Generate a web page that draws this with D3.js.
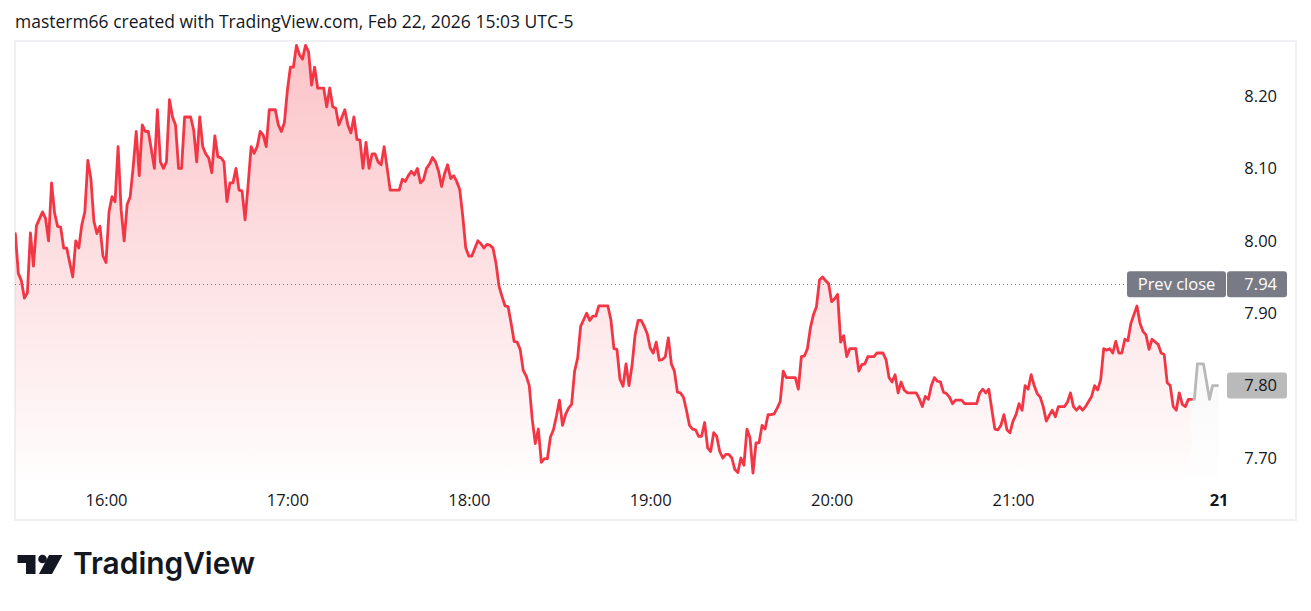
<!DOCTYPE html>
<html>
<head>
<meta charset="utf-8">
<script src="https://cdn.jsdelivr.net/npm/d3@7"></script>
<style>
  html, body { margin: 0; padding: 0; background: #fff; }
  svg { display: block; }
</style>
</head>
<body>
<svg id="chart" width="1311" height="611"></svg>
<script>
// ---- data: 1-min closes, index = minutes after 15:30 (null = not read) ----
var regular = [
  8.010, 7.955, 7.945, 7.921, 7.928, 8.011, 7.965, 8.021, null, 8.040,
  8.031, 8.000, 8.080, 8.038, 8.020, 8.019, 7.990, 7.990, null, 7.950,
  8.000, 7.990, 8.022, 8.040, 8.111, 8.086, 8.027, 8.010, 8.020, 7.979,
  7.970, 8.040, 8.061, 8.054, 8.130, 8.043, 8.000, 8.050, 8.061, 8.102,
  8.151, 8.090, 8.160, 8.151, 8.151, 8.126, 8.100, 8.181, 8.109, 8.100,
  8.109, 8.195, 8.171, 8.160, 8.100, 8.100, 8.171, 8.171, 8.171, 8.153,
  8.109, 8.171, 8.130, 8.120, 8.114, 8.094, 8.145, 8.116, 8.115, 8.109,
  8.054, 8.080, 8.080, 8.100, 8.070, 8.069, 8.029, 8.077, 8.130, 8.121,
  8.130, 8.151, 8.146, 8.130, 8.181, 8.181, 8.181, 8.160, 8.151, 8.163,
  8.208, 8.240, 8.240, 8.270, 8.257, 8.251, 8.270, 8.261, 8.215, 8.240,
  8.211, 8.211, 8.211, 8.185, 8.211, 8.185, 8.183, 8.160, null, 8.181,
  8.160, 8.149, 8.171, 8.140, 8.139, 8.100, 8.136, 8.100, 8.120, 8.120,
  8.109, 8.105, 8.130, 8.100, 8.070, 8.070, 8.070, 8.070, 8.085, 8.082,
  8.090, 8.096, 8.091, 8.100, 8.080, 8.084, 8.100, 8.106, 8.115, 8.109,
  8.096, 8.075, 8.093, 8.105, 8.086, 8.090, 8.082, 8.071, 8.034, 7.990,
  7.979, 7.979, null, 8.000, 7.996, 7.990, 7.995, 7.994, 7.990, 7.969,
  7.937, 7.923, 7.910, 7.909, 7.886, 7.861, 7.860, 7.850, 7.821, 7.813,
  7.800, 7.753, 7.720, 7.740, 7.694, 7.699, 7.699, 7.729, 7.739, 7.758,
  7.780, 7.745, 7.760, 7.769, 7.774, 7.820, 7.838, 7.882, 7.891, 7.900,
  7.890, 7.896, 7.896, 7.910, 7.910, 7.910, 7.910, 7.891, 7.851, 7.850,
  7.809, 7.799, 7.830, 7.800, 7.828, 7.870, 7.890, 7.890, 7.882, 7.872,
  7.852, 7.845, 7.860, 7.835, 7.836, 7.840, 7.866, 7.830, 7.820, 7.791,
  7.790, 7.784, 7.766, 7.745, 7.740, 7.739, 7.730, 7.730, 7.749, 7.714,
  7.709, 7.735, 7.730, 7.709, 7.700, 7.705, 7.705, 7.700, 7.684, 7.680,
  7.700, 7.690, 7.740, 7.728, 7.679, 7.721, 7.721, 7.745, 7.740, 7.760,
  7.760, 7.761, 7.769, 7.778, 7.820, 7.811, 7.811, 7.811, 7.811, 7.795,
  7.840, 7.841, 7.851, 7.880, 7.898, 7.909, 7.946, 7.950, 7.945, 7.941,
  7.916, 7.920, 7.926, 7.860, 7.869, 7.840, 7.851, 7.851, 7.851, 7.820,
  7.829, 7.830, 7.840, 7.840, 7.840, 7.845, 7.845, 7.845, 7.836, 7.811,
  7.805, 7.815, 7.790, 7.805, 7.794, 7.790, 7.790, 7.790, 7.790, 7.782,
  7.771, 7.785, 7.781, 7.800, 7.811, 7.806, 7.805, 7.791, 7.789, 7.784,
  7.775, 7.780, 7.780, 7.780, 7.775, 7.775, 7.775, 7.775, 7.775, 7.790,
  7.795, 7.790, 7.795, 7.767, 7.740, 7.739, 7.745, 7.760, 7.739, 7.735,
  7.751, 7.760, 7.775, 7.766, 7.800, 7.795, 7.815, 7.800, 7.789, 7.784,
  7.771, 7.751, 7.759, 7.766, 7.757, 7.771, 7.771, 7.771, 7.777, 7.790,
  7.771, 7.766, 7.771, 7.766, 7.771, 7.778, 7.785, 7.800, 7.794, 7.808,
  7.851, 7.849, 7.851, 7.845, 7.861, 7.845, 7.845, 7.864, 7.862, 7.886,
  7.898, 7.910, 7.886, 7.875, 7.870, 7.850, 7.864, null, 7.857, 7.845,
  7.843, 7.804, 7.800, 7.771, 7.766, 7.790, 7.774, 7.771, 7.781, 7.781
];
// post-market (grey), starts at the last regular minute
var postStart = 389;
var post = [7.781, 7.781, 7.830, 7.830, 7.830, null, 7.781, 7.800, 7.800, 7.800];

var priceTicks = [7.70, 7.80, 7.90, 8.00, 8.10, 8.20];
var timeTicks  = [30, 90, 150, 210, 270, 330, 398];          // minutes after 15:30
var timeLabels = ["16:00", "17:00", "18:00", "19:00", "20:00", "21:00", "21"];
var prevClose = 7.94;
var lastPrice = 7.80;
var header = "masterm66 created with TradingView.com, Feb 22, 2026 15:03 UTC-5";

// ---- frame ----
var svg = d3.select("#chart");
var FONT = "'Open Sans', 'Noto Sans', sans-serif";
var INK = "#131722";
var pane = { left: 15, top: 41, right: 1226, bottom: 478 };

var x = d3.scaleLinear().domain([30, 330]).range([106, 1013]);
var y = d3.scaleLinear().domain([7.70, 8.20]).range([458, 96]);

var regPts = regular.map(function (p, i) { return { m: i, p: p }; })
  .filter(function (d) { return d.p != null; });
var postPts = post.map(function (p, i) { return { m: postStart + i, p: p }; })
  .filter(function (d) { return d.p != null; });

// gradients
var defs = svg.append("defs");
var gR = defs.append("linearGradient").attr("id", "gRed")
  .attr("gradientUnits", "userSpaceOnUse")
  .attr("x1", 0).attr("x2", 0).attr("y1", pane.top).attr("y2", pane.bottom);
gR.append("stop").attr("offset", 0).attr("stop-color", "#f23645").attr("stop-opacity", 0.3);
gR.append("stop").attr("offset", 1).attr("stop-color", "#f23645").attr("stop-opacity", 0.01);
var gG = defs.append("linearGradient").attr("id", "gGrey")
  .attr("gradientUnits", "userSpaceOnUse")
  .attr("x1", 0).attr("x2", 0).attr("y1", pane.top).attr("y2", pane.bottom);
gG.append("stop").attr("offset", 0).attr("stop-color", "#9598a1").attr("stop-opacity", 0.22);
gG.append("stop").attr("offset", 1).attr("stop-color", "#9598a1").attr("stop-opacity", 0.01);
defs.append("clipPath").attr("id", "paneClip").append("rect")
  .attr("x", pane.left).attr("y", pane.top)
  .attr("width", pane.right - pane.left).attr("height", pane.bottom - pane.top);

// header
var head = svg.append("text")
  .attr("x", 15).attr("y", 28)
  .attr("font-family", FONT).attr("font-size", 16).attr("font-weight", 500).attr("fill", INK)
  .text(header);
var hw = head.node().getComputedTextLength();
head.attr("font-size", 16 * 559 / hw);

// outer border
svg.append("rect")
  .attr("x", 15).attr("y", 41).attr("width", 1281).attr("height", 479)
  .attr("fill", "none").attr("stroke", "#eef0f3").attr("stroke-width", 2);

var plot = svg.append("g").attr("clip-path", "url(#paneClip)");

var area = d3.area()
  .x(function (d) { return x(d.m); })
  .y0(pane.bottom)
  .y1(function (d) { return y(d.p); });
var line = d3.line()
  .x(function (d) { return x(d.m); })
  .y(function (d) { return y(d.p); });

plot.append("path").datum(regPts).attr("d", area).attr("fill", "url(#gRed)");
plot.append("path").datum(postPts).attr("d", area).attr("fill", "url(#gGrey)");

// prev close dotted line
plot.append("line")
  .attr("x1", pane.left).attr("x2", pane.right)
  .attr("y1", Math.round(y(prevClose)) + 0.5).attr("y2", Math.round(y(prevClose)) + 0.5)
  .attr("stroke", "#787b86").attr("stroke-width", 1)
  .attr("stroke-dasharray", "1 3");

plot.append("path").datum(postPts).attr("d", line)
  .attr("fill", "none").attr("stroke", "#b8b8b8").attr("stroke-width", 2.8)
  .attr("stroke-linejoin", "round");
plot.append("path").datum(regPts).attr("d", line)
  .attr("fill", "none").attr("stroke", "#f23645").attr("stroke-width", 2.8)
  .attr("stroke-linejoin", "round").attr("stroke-linecap", "round");

// price axis
var yAxis = svg.append("g")
  .attr("transform", "translate(1277,0)")
  .call(d3.axisLeft(y).tickValues(priceTicks).tickSize(0).tickPadding(0)
    .tickFormat(function (d) { return d.toFixed(2); }));
yAxis.select(".domain").remove();
yAxis.selectAll("text").attr("font-family", FONT).attr("font-size", 16.5).attr("fill", INK);

// time axis
var xAxis = svg.append("g")
  .attr("transform", "translate(0,494)")
  .call(d3.axisBottom(x).tickValues(timeTicks).tickSize(0).tickPadding(0)
    .tickFormat(function (d, i) { return timeLabels[i]; }));
xAxis.select(".domain").remove();
xAxis.selectAll("text").attr("font-family", FONT).attr("font-size", 16.5).attr("fill", INK)
  .attr("font-weight", function (d, i) { return timeLabels[i].indexOf(":") < 0 ? 700 : 400; });

// prev close label
var yc = y(prevClose);
var pc = svg.append("g");
pc.append("rect").attr("x", 1127).attr("y", yc - 13).attr("width", 99).attr("height", 26)
  .attr("rx", 3).attr("fill", "#787b86");
pc.append("rect").attr("x", 1227).attr("y", yc - 13).attr("width", 60).attr("height", 26)
  .attr("rx", 3).attr("fill", "#787b86");
pc.append("text").attr("x", 1176.5).attr("y", yc).attr("dy", "0.35em")
  .attr("text-anchor", "middle").attr("font-family", FONT).attr("font-size", 16.5)
  .attr("font-weight", 500).attr("fill", "#fff").text("Prev close");
pc.append("text").attr("x", 1277).attr("y", yc).attr("dy", "0.35em")
  .attr("text-anchor", "end").attr("font-family", FONT).attr("font-size", 16.5)
  .attr("fill", "#fff").text(prevClose.toFixed(2));

// last price label
var yl = y(lastPrice);
svg.append("rect").attr("x", 1227).attr("y", yl - 13).attr("width", 60).attr("height", 26)
  .attr("rx", 3).attr("fill", "#bababa");
svg.append("text").attr("x", 1277).attr("y", yl).attr("dy", "0.35em")
  .attr("text-anchor", "end").attr("font-family", FONT).attr("font-size", 16.5)
  .attr("fill", INK).text(lastPrice.toFixed(2));

// TradingView logo
var logo = svg.append("g").attr("fill", "#131722");
logo.append("path").attr("d", "M17.5,555 H35.5 V574 H26 V563 H17.5 Z");
logo.append("circle").attr("cx", 42.5).attr("cy", 559).attr("r", 4.3);
logo.append("path").attr("d", "M49,555 H62.5 L52,574 H39 Z");
var brand = svg.append("text")
  .attr("x", 73).attr("y", 574)
  .attr("font-family", "Inter, 'Open Sans', sans-serif").attr("font-weight", 600)
  .attr("font-size", 25).attr("fill", "#131722")
  .text("TradingView");
var bw = brand.node().getComputedTextLength();
brand.attr("font-size", 25 * 182 / bw);
</script>
</body>
</html>
